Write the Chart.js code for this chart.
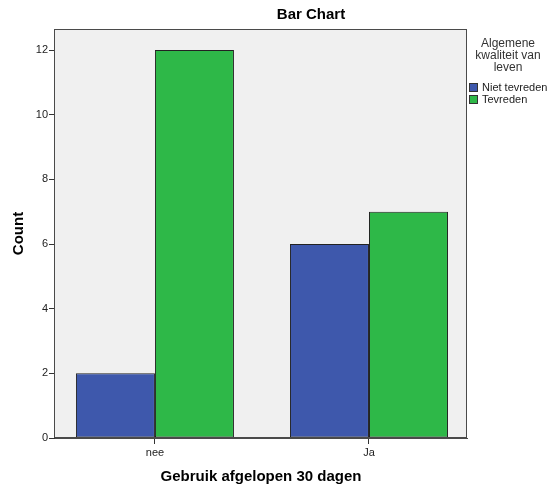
<!DOCTYPE html>
<html>
<head>
<meta charset="utf-8">
<script src="https://cdn.jsdelivr.net/npm/chart.js@4/dist/chart.umd.min.js"></script>
<style>
  html, body { margin: 0; padding: 0; background: #ffffff; }
  #wrap { width: 547px; height: 486px; }
</style>
</head>
<body>
<div id="wrap"><canvas id="c" width="547" height="486"></canvas></div>
<script>
// ---- data ----
const categories = ['nee', 'Ja'];
const nietTevreden = [2, 6];
const tevreden = [12, 7];
const seriesLabels = ['Niet tevreden', 'Tevreden'];
const legendTitle = ['Algemene', 'kwaliteit van', 'leven'];
const yTicks = [0, 2, 4, 6, 8, 10, 12];
const chartTitle = 'Bar Chart';
const xTitle = 'Gebruik afgelopen 30 dagen';
const yTitle = 'Count';

const FONT = "Arial, 'Liberation Sans', sans-serif";
const BLUE = '#3E58AC';
const GREEN = '#2EB848';

const decor = {
  id: 'decor',
  beforeDatasetsDraw(chart) {
    const { ctx, chartArea: a } = chart;
    ctx.save();
    ctx.fillStyle = '#F0F0F0';
    ctx.fillRect(a.left, a.top, a.right - a.left, a.bottom - a.top);
    ctx.restore();
  },
  afterDraw(chart) {
    const { ctx, chartArea: a } = chart;
    ctx.save();
    ctx.strokeStyle = '#4a4a4a';
    ctx.lineWidth = 1;
    ctx.strokeRect(Math.round(a.left) - 0.5, Math.round(a.top) + 0.5,
                   Math.round(a.right - a.left), Math.round(a.bottom - a.top) - 1);
    // title
    ctx.fillStyle = '#000';
    ctx.font = 'bold 15px ' + FONT;
    ctx.textAlign = 'center';
    ctx.textBaseline = 'middle';
    ctx.fillText(chartTitle, 311, 15);
    // legend
    ctx.fillStyle = '#333';
    ctx.font = '12px ' + FONT;
    legendTitle.forEach((t, i) => ctx.fillText(t, 508, 44 + i * 12));
    ctx.textAlign = 'left';
    ctx.font = '11px ' + FONT;
    chart.data.datasets.forEach((ds, i) => {
      const y = 88 + i * 12;
      ctx.fillStyle = ds.backgroundColor;
      ctx.fillRect(469.5, y - 4.5, 8, 8);
      ctx.strokeStyle = '#333';
      ctx.strokeRect(469.5, y - 4.5, 8, 8);
      ctx.fillStyle = '#222';
      ctx.fillText(ds.label, 482, y);
    });
    ctx.restore();
  }
};

new Chart(document.getElementById('c'), {
  type: 'bar',
  data: {
    datasets: [
      {
        label: seriesLabels[0],
        data: nietTevreden.map((v, i) => ({ x: i + 1, y: v })),
        backgroundColor: BLUE,
        borderColor: '#222',
        borderWidth: 1,
        borderSkipped: false
      },
      {
        label: seriesLabels[1],
        data: tevreden.map((v, i) => ({ x: i + 1, y: v })),
        backgroundColor: GREEN,
        borderColor: '#222',
        borderWidth: 1,
        borderSkipped: false
      }
    ]
  },
  options: {
    responsive: false,
    animation: false,
    layout: { padding: { top: 29, right: 80, bottom: 0, left: 0 } },
    datasets: { bar: { categoryPercentage: 0.7383, barPercentage: 1 } },
    plugins: {
      legend: { display: false },
      title: { display: false },
      tooltip: { enabled: false }
    },
    scales: {
      x: {
        type: 'linear',
        min: 0.533,
        max: 2.458,
        offset: false,
        afterBuildTicks(scale) {
          scale.ticks = categories.map((c, i) => ({ value: i + 1 }));
        },
        afterFit(scale) { scale.height = 48; },
        ticks: {
          callback: (v) => categories[Math.round(v) - 1] || '',
          font: { family: FONT, size: 11 },
          color: '#222',
          padding: 2,
          maxRotation: 0,
          autoSkip: false
        },
        grid: { offset: false, drawOnChartArea: false, drawTicks: true, tickLength: 6, color: '#333' },
        border: { display: true, color: '#4a4a4a' },
        title: {
          display: true,
          text: xTitle,
          font: { family: FONT, size: 15, weight: 'bold' },
          color: '#000',
          padding: { top: 0, bottom: 0 }
        }
      },
      y: {
        min: 0,
        max: 12.65,
        afterBuildTicks(scale) {
          scale.ticks = yTicks.map(v => ({ value: v }));
        },
        afterFit(scale) { scale.width = 55; },
        ticks: {
          font: { family: FONT, size: 11 },
          color: '#222',
          padding: 1,
          includeBounds: false
        },
        grid: { drawOnChartArea: false, drawTicks: true, tickLength: 6, color: '#333' },
        border: { display: true, color: '#4a4a4a' },
        title: {
          display: true,
          text: yTitle,
          font: { family: FONT, size: 15, weight: 'bold' },
          color: '#000',
          padding: { top: 10, bottom: 0 }
        }
      }
    }
  },
  plugins: [decor]
});
</script>
</body>
</html>
